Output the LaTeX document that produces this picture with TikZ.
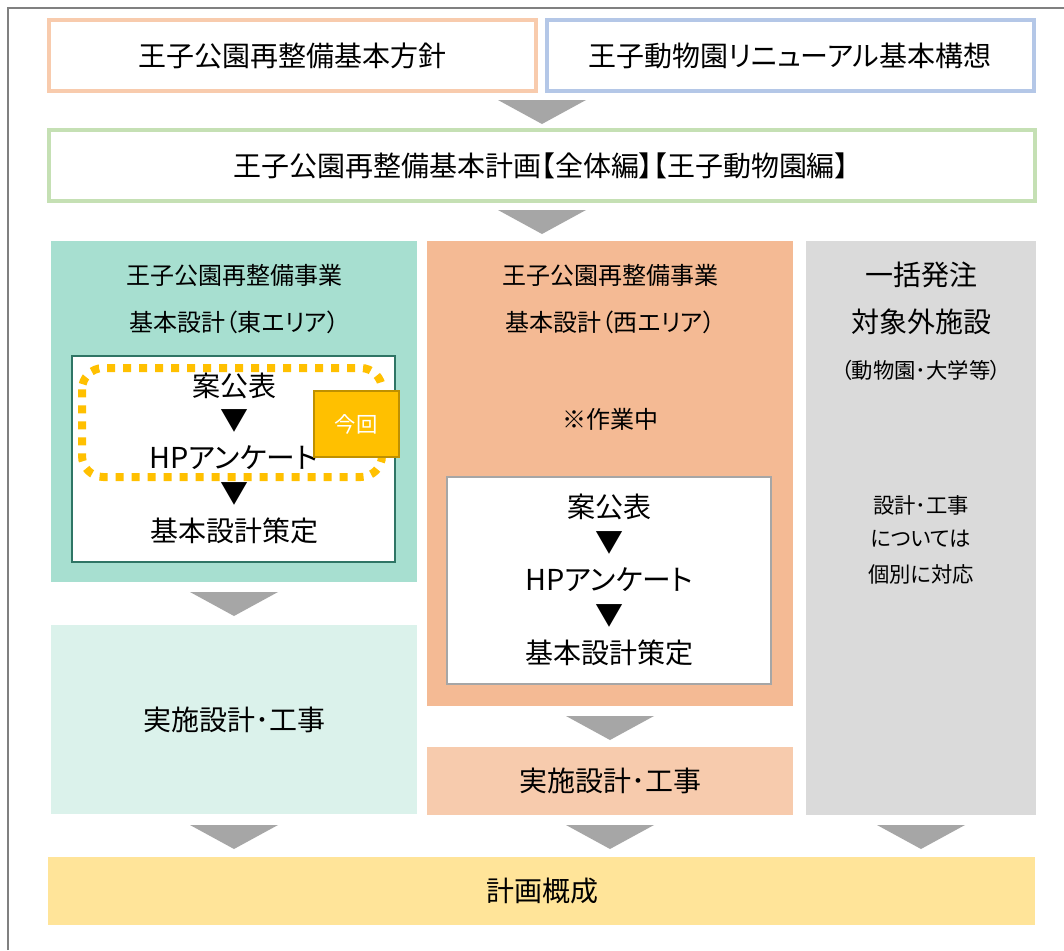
\documentclass[tikz,border=0pt]{standalone}
\usepackage{fontspec}
\setmainfont[RawFeature={+palt}]{Noto Sans CJK JP}
\definecolor{fr1}{HTML}{F8CBAD}
\definecolor{fr2}{HTML}{B4C7E7}
\definecolor{fr3}{HTML}{C5E0B4}
\definecolor{gtri}{HTML}{A6A6A6}
\definecolor{east}{HTML}{A7DFD0}
\definecolor{eastl}{HTML}{DBF2EB}
\definecolor{west}{HTML}{F4BA94}
\definecolor{westl}{HTML}{F7CBAD}
\definecolor{grayb}{HTML}{DADADA}
\definecolor{plan}{HTML}{FFE499}
\definecolor{gold}{HTML}{FFC000}
\definecolor{goldd}{HTML}{BF9000}
\definecolor{teal}{HTML}{2F7565}
\tikzset{
 x=0.75pt,y=-0.75pt,
 topbox/.style={draw=#1,line width=3pt,fill=white},
 tri/.style={fill=gtri,draw=none},
 tx/.style={inner sep=0,anchor=center,text=black}
}
\newcommand{\tria}[2]{\fill[tri] (#1-44,#2) -- (#1+44,#2) -- (#1,#2+24) -- cycle;}
\newcommand{\fs}[1]{\fontsize{#1}{#1}\selectfont}
\begin{document}
\begin{tikzpicture}
\useasboundingbox (0,0) rectangle (1064,950);
\fill[white] (0,0) rectangle (1064,950);
\draw[gray,line width=1.5pt] (8,950) -- (8,8) -- (1064,8);
\draw[topbox=fr1] (49,20) rectangle (536,91);
\draw[topbox=fr2] (547,20) rectangle (1034,91);
\draw[topbox=fr3] (49,130) rectangle (1035,201);
\node[tx] (a) at (292,56) {\fs{21}王子公園再整備基本方針};
\node[tx] (b) at (790,56) {\fs{21}王子動物園リニューアル基本構想};
\node[tx] (c) at (541,166) {\fs{21}王子公園再整備基本計画【全体編】【王子動物園編】};
\tria{542}{100}
\tria{542}{210}
\fill[east] (51,241) rectangle (417,582);
\fill[west] (427,241) rectangle (793,706);
\fill[grayb] (806,241) rectangle (1036,815);
\fill[eastl] (51,625) rectangle (417,814);
\fill[westl] (427,747) rectangle (793,815);
\fill[plan] (48,857) rectangle (1035,925);
\tria{234}{592}
\tria{610}{716}
\tria{234}{825}
\tria{610}{825}
\tria{921}{825}
\node[tx] at (234,275) {\fs{18}王子公園再整備事業};
\node[tx] at (234.5,322) {\fs{18}基本設計（東エリア）};
\node[tx] at (610,275) {\fs{18}王子公園再整備事業};
\node[tx] at (610.5,322) {\fs{18}基本設計（西エリア）};
\node[tx] at (610,419) {\fs{18}※作業中};
\node[tx] at (921,275) {\fs{21}一括発注};
\node[tx] at (921,322) {\fs{21}対象外施設};
\node[tx] at (921,370) {\fs{16}（動物園･大学等）};
\node[tx] at (921,505) {\fs{16}設計･工事};
\node[tx] at (921,539) {\fs{16}については};
\node[tx] at (921,574) {\fs{16}個別に対応};
\draw[teal,line width=2pt,fill=white] (72,356) rectangle (395,562);
\draw[gray!70,line width=2pt,fill=white] (447,477) rectangle (771,684);
\node[tx] at (234,386) {\fs{21}案公表};
\node[tx] at (234,421) {\fs{21}▼};
\node[tx] at (233.5,458) {\fs{21.6}HPアンケート};
\node[tx] at (234,494) {\fs{21}▼};
\node[tx] at (234,531) {\fs{21}基本設計策定};
\node[tx] at (609,507) {\fs{21}案公表};
\node[tx] at (609,543) {\fs{21}▼};
\node[tx] at (609,580) {\fs{21.6}HPアンケート};
\node[tx] at (609,616) {\fs{21}▼};
\node[tx] at (609,653) {\fs{21}基本設計策定};
\draw[gold,line width=6pt,dash pattern=on 6pt off 6pt,rounded corners=16pt] (82,368) rectangle (382,477);
\draw[goldd,line width=2pt,fill=gold] (314,391) rectangle (399,457);
\node[tx,text=white] at (356,424) {\fs{16}今回};
\node[tx] at (234,720) {\fs{21}実施設計･工事};
\node[tx] at (610,781) {\fs{21}実施設計･工事};
\node[tx] at (542,891) {\fs{21}計画概成};
\end{tikzpicture}
\end{document}
